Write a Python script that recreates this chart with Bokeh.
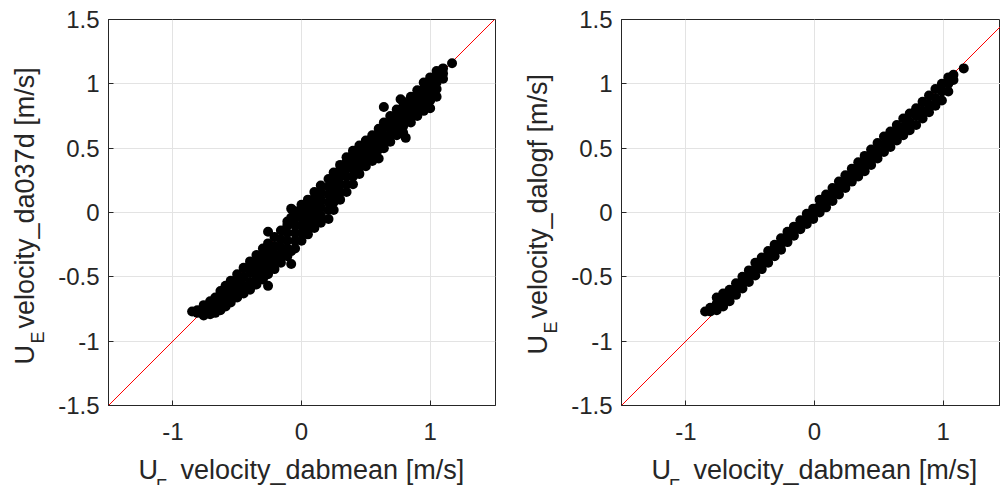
import math
from bokeh.plotting import figure
from bokeh.layouts import row, column
from bokeh.models import Range1d, FixedTicker, NumeralTickFormatter
from bokeh.core.properties import value
from bokeh.embed import file_html
from bokeh.resources import INLINE

# ---------------- tick values / labels ----------------
x_ticks = [-1, 0, 1]
x_tick_labels = ["-1", "0", "1"]
y_ticks = [-1.5, -1, -0.5, 0, 0.5, 1, 1.5]
y_tick_labels = ["-1.5", "-1", "-0.5", "0", "0.5", "1", "1.5"]
axis_limits = [-1.5, 1.5]
identity_line = [-1.5, 1.5]   # y = x reference line

# ---------------- axis titles ----------------
x_title_sym, x_title_sub, x_title_rest = "U", "F", "velocity_dabmean [m/s]"
y_title_sym, y_title_sub = "U", "E"
y_title_rest_left = "velocity_da037d [m/s]"
y_title_rest_right = "velocity_dalogf [m/s]"

# ---------------- left panel: U_F (dabmean) vs U_E (da037d) ----------------
left_x = [
    -0.85,
    -0.81, -0.81,
    -0.76, -0.76, -0.76,
    -0.71, -0.71, -0.71,
    -0.67, -0.67, -0.67,
    -0.63, -0.63, -0.63, -0.63,
    -0.59, -0.59, -0.59, -0.59,
    -0.55, -0.55, -0.55, -0.55,
    -0.50, -0.50, -0.50, -0.50,
    -0.45, -0.45, -0.45, -0.45,
    -0.40, -0.40, -0.40, -0.40, -0.40,
    -0.35, -0.35, -0.35, -0.35, -0.35,
    -0.30, -0.30, -0.30, -0.30, -0.30,
    -0.26, -0.26, -0.26, -0.26, -0.26, -0.26, -0.26,
    -0.21, -0.21, -0.21, -0.21, -0.21,
    -0.16, -0.16, -0.16, -0.16, -0.16,
    -0.11, -0.11, -0.11, -0.11, -0.11, -0.11,
    -0.08, -0.08, -0.08, -0.08,
    -0.05, -0.05, -0.05, -0.05, -0.05, -0.05,
    0.00, 0.00, 0.00, 0.00, 0.00, 0.00,
    0.05, 0.05, 0.05, 0.05, 0.05, 0.05,
    0.10, 0.10, 0.10, 0.10, 0.10, 0.10,
    0.15, 0.15, 0.15, 0.15, 0.15, 0.15,
    0.21, 0.21, 0.21, 0.21, 0.21, 0.21,
    0.25, 0.25, 0.25, 0.25, 0.25, 0.25,
    0.30, 0.30, 0.30, 0.30, 0.30, 0.30,
    0.35, 0.35, 0.35, 0.35, 0.35, 0.35,
    0.40, 0.40, 0.40, 0.40, 0.40, 0.40,
    0.45, 0.45, 0.45, 0.45, 0.45,
    0.50, 0.50, 0.50, 0.50, 0.50,
    0.55, 0.55, 0.55, 0.55, 0.55,
    0.60, 0.60, 0.60, 0.60, 0.60,
    0.64, 0.64, 0.64, 0.64, 0.64, 0.64,
    0.69, 0.69, 0.69, 0.69, 0.69,
    0.74, 0.74, 0.74, 0.74, 0.74,
    0.77,
    0.79, 0.79, 0.79, 0.79, 0.79, 0.79,
    0.81,
    0.85, 0.85, 0.85, 0.85, 0.85,
    0.90, 0.90, 0.90, 0.90, 0.90,
    0.95, 0.95, 0.95, 0.95, 0.95,
    1.00, 1.00, 1.00, 1.00, 1.00,
    1.05, 1.05, 1.05, 1.05, 1.05,
    1.10, 1.10, 1.10,
    1.17,
]
left_y = [
    -0.77,
    -0.78, -0.76,
    -0.80, -0.76, -0.72,
    -0.79, -0.74, -0.69,
    -0.78, -0.72, -0.66,
    -0.76, -0.70, -0.64, -0.61,
    -0.73, -0.67, -0.62, -0.57,
    -0.70, -0.64, -0.58, -0.53,
    -0.66, -0.60, -0.54, -0.48,
    -0.63, -0.57, -0.50, -0.43,
    -0.60, -0.54, -0.47, -0.41, -0.38,
    -0.56, -0.50, -0.44, -0.38, -0.33,
    -0.52, -0.46, -0.40, -0.34, -0.28,
    -0.57, -0.48, -0.42, -0.36, -0.30, -0.24, -0.15,
    -0.44, -0.38, -0.32, -0.26, -0.19,
    -0.39, -0.33, -0.27, -0.21, -0.14,
    -0.34, -0.28, -0.22, -0.16, -0.10, -0.07,
    -0.40, -0.30, -0.04, 0.03,
    -0.28, -0.22, -0.16, -0.10, -0.04, 0.01,
    -0.22, -0.16, -0.10, -0.04, 0.02, 0.06,
    -0.17, -0.11, -0.05, 0.01, 0.06, 0.10,
    -0.12, -0.06, 0.00, 0.06, 0.11, 0.16,
    -0.08, -0.02, 0.04, 0.10, 0.16, 0.21,
    -0.05, 0.02, 0.08, 0.14, 0.20, 0.26,
    0.02, 0.08, 0.14, 0.20, 0.26, 0.31,
    0.10, 0.16, 0.22, 0.28, 0.33, 0.37,
    0.16, 0.22, 0.28, 0.34, 0.39, 0.43,
    0.22, 0.28, 0.34, 0.40, 0.45, 0.48,
    0.30, 0.35, 0.41, 0.47, 0.52,
    0.36, 0.41, 0.46, 0.51, 0.56,
    0.40, 0.46, 0.51, 0.56, 0.60,
    0.42, 0.49, 0.55, 0.60, 0.65,
    0.50, 0.55, 0.60, 0.66, 0.70, 0.82,
    0.55, 0.60, 0.65, 0.70, 0.75,
    0.60, 0.66, 0.71, 0.76, 0.80,
    0.88,
    0.62, 0.67, 0.72, 0.77, 0.82, 0.86,
    0.58,
    0.70, 0.75, 0.80, 0.85, 0.90,
    0.75, 0.80, 0.85, 0.90, 0.95,
    0.79, 0.85, 0.90, 0.96, 1.01,
    0.81, 0.87, 0.93, 0.99, 1.05,
    0.90, 0.96, 1.01, 1.06, 1.10,
    1.04, 1.08, 1.12,
    1.16,
]

# ---------------- right panel: U_F (dabmean) vs U_E (dalogf) ----------------
right_x = [
    -0.85,
    -0.81, -0.81,
    -0.76, -0.76, -0.76,
    -0.71, -0.71, -0.71,
    -0.66, -0.66, -0.66,
    -0.61, -0.61, -0.61,
    -0.56, -0.56, -0.56,
    -0.51, -0.51, -0.51,
    -0.46, -0.46, -0.46,
    -0.41, -0.41, -0.41,
    -0.36, -0.36, -0.36,
    -0.31, -0.31, -0.31,
    -0.26, -0.26, -0.26,
    -0.21, -0.21, -0.21,
    -0.16, -0.16, -0.16,
    -0.11, -0.11, -0.11,
    -0.06, -0.06, -0.06,
    -0.01, -0.01, -0.01,
    0.04, 0.04, 0.04,
    0.09, 0.09, 0.09,
    0.14, 0.14, 0.14,
    0.19, 0.19, 0.19,
    0.24, 0.24, 0.24,
    0.29, 0.29, 0.29,
    0.34, 0.34, 0.34,
    0.39, 0.39, 0.39,
    0.44, 0.44, 0.44,
    0.49, 0.49, 0.49,
    0.54, 0.54, 0.54,
    0.59, 0.59, 0.59,
    0.64, 0.64, 0.64,
    0.69, 0.69, 0.69,
    0.74, 0.74, 0.74,
    0.79, 0.79, 0.79,
    0.84, 0.84, 0.84,
    0.89, 0.89, 0.89,
    0.94, 0.94, 0.94,
    0.99, 0.99, 0.99,
    1.04, 1.04, 1.04,
    1.08, 1.08,
    1.16,
]
right_y = [
    -0.77,
    -0.77, -0.74,
    -0.76, -0.71, -0.66,
    -0.73, -0.68, -0.63,
    -0.69, -0.64, -0.60,
    -0.64, -0.59, -0.55,
    -0.59, -0.54, -0.50,
    -0.54, -0.49, -0.45,
    -0.49, -0.44, -0.39,
    -0.44, -0.39, -0.35,
    -0.39, -0.34, -0.30,
    -0.34, -0.29, -0.25,
    -0.29, -0.24, -0.20,
    -0.23, -0.19, -0.15,
    -0.18, -0.14, -0.11,
    -0.13, -0.09, -0.06,
    -0.09, -0.05, -0.01,
    -0.05, -0.01, 0.03,
    0.00, 0.05, 0.10,
    0.04, 0.09, 0.14,
    0.09, 0.14, 0.19,
    0.14, 0.19, 0.24,
    0.19, 0.24, 0.29,
    0.24, 0.29, 0.34,
    0.28, 0.33, 0.39,
    0.32, 0.38, 0.44,
    0.37, 0.43, 0.49,
    0.42, 0.48, 0.54,
    0.47, 0.53, 0.59,
    0.51, 0.57, 0.63,
    0.56, 0.62, 0.68,
    0.60, 0.66, 0.73,
    0.64, 0.70, 0.77,
    0.68, 0.75, 0.81,
    0.73, 0.79, 0.86,
    0.78, 0.84, 0.91,
    0.83, 0.89, 0.96,
    0.87, 0.94, 1.00,
    0.94, 1.00, 1.05,
    1.03, 1.07,
    1.12,
]

FONT = "Liberation Sans"
INK = "#262626"
PX_PER_UNIT = 386 / 3.0
PAGE_H = 485
MAIN_H = 452          # plot figure height (frame 19..405 + tick labels)
XLAB_H = PAGE_H - MAIN_H
BASE_FIX = 6          # text glyph baseline correction (px)
CHUNK = 90            # markers per scatter renderer


def blank_strip(width, height, border_left=0, border_right=0):
    s = figure(width=width, height=height, output_backend="svg", toolbar_location=None,
               x_range=Range1d(0, width - border_left - border_right), y_range=Range1d(0, height),
               x_axis_type=None, y_axis_type=None,
               min_border_left=border_left, min_border_right=border_right,
               min_border_top=0, min_border_bottom=0,
               background_fill_color="white", border_fill_color="white")
    s.outline_line_color = None
    s.grid.visible = False
    return s


def main_plot(xs, ys, width, border_left, border_right, dot):
    frame_w = width - border_left - border_right
    x_end = axis_limits[0] + frame_w / PX_PER_UNIT
    p = figure(width=width, height=MAIN_H, output_backend="svg", toolbar_location=None,
               x_range=Range1d(axis_limits[0], x_end), y_range=Range1d(*axis_limits),
               min_border_left=border_left, min_border_right=border_right,
               min_border_top=19, min_border_bottom=MAIN_H - 19 - 386,
               background_fill_color="white", border_fill_color="white")
    p.outline_line_color = INK
    p.outline_line_width = 1
    for ax, ticks, labels, standoff in ((p.xaxis[0], x_ticks, x_tick_labels, 17),
                                        (p.yaxis[0], y_ticks, y_tick_labels, 9)):
        ax.ticker = FixedTicker(ticks=ticks)
        ax.formatter = NumeralTickFormatter(format="0.[0]")
        ax.major_label_overrides = dict(zip(ticks, labels))
        ax.major_tick_in = 5
        ax.major_tick_out = 0
        ax.minor_tick_in = 0
        ax.minor_tick_out = 0
        ax.axis_line_color = INK
        ax.major_tick_line_color = INK
        ax.major_label_text_font = FONT
        ax.major_label_text_font_size = "24px"
        ax.major_label_text_color = INK
        ax.major_label_standoff = standoff
        ax.axis_label = None
    p.xgrid.ticker = FixedTicker(ticks=x_ticks)
    p.ygrid.ticker = FixedTicker(ticks=y_ticks)
    for g in (p.xgrid[0], p.ygrid[0]):
        g.grid_line_color = "#e3e3e3"
        g.grid_line_width = 1
    # reference line drawn first, then the points
    p.line(identity_line, identity_line, line_color="#ff0000", line_width=1)
    for i in range(0, len(xs), CHUNK):
        p.scatter(xs[i:i + CHUNK], ys[i:i + CHUNK], size=dot, fill_color="black",
                  line_color=None, marker="circle")
    return p


def text_kw(size):
    return dict(text_font=value(FONT), text_font_size=value(size), text_color=INK,
                text_baseline="alphabetic", text_align="left")


def y_title_strip(width, baseline_x, start_y, y_rest):
    s = blank_strip(width, PAGE_H)
    bx = baseline_x - BASE_FIX
    s.text(x=[bx], y=[start_y], text=[y_title_sym], angle=math.pi / 2, **text_kw("27px"))
    s.text(x=[bx + 13], y=[start_y + 21], text=[y_title_sub], angle=math.pi / 2, **text_kw("18px"))
    s.text(x=[bx], y=[start_y + 36], text=[y_rest], angle=math.pi / 2, **text_kw("27px"))
    return s


def x_title_strip(width, border_left, border_right):
    s = blank_strip(width, XLAB_H, border_left, border_right)
    base = PAGE_H - 475 + BASE_FIX
    s.text(x=[30], y=[base], text=[x_title_sym], **text_kw("27px"))
    s.text(x=[47.5], y=[base - 16], text=[x_title_sub], **text_kw("18px"))
    s.text(x=[72], y=[base], text=[x_title_rest], **text_kw("27px"))
    return s


# right block (page x 500..1000): strip 60 + plot 440 (frame left at 621)
r_main = main_plot(right_x, right_y, 440, 61, 0, 10)
r_ylab = y_title_strip(60, 43, PAGE_H - 354, y_title_rest_right)
r_xlab = x_title_strip(440, 61, 0)

# left block (page x 0..500): strip 48 + plot 452 (frame left at 108)
l_main = main_plot(left_x, left_y, 452, 60, 5, 10)
l_ylab = y_title_strip(48, 30, PAGE_H - 364, y_title_rest_left)
l_xlab = x_title_strip(452, 60, 5)

layout = row(row(l_ylab, column(l_main, l_xlab)), row(r_ylab, column(r_main, r_xlab)))
open("out.html", "w").write(file_html(layout, INLINE))
